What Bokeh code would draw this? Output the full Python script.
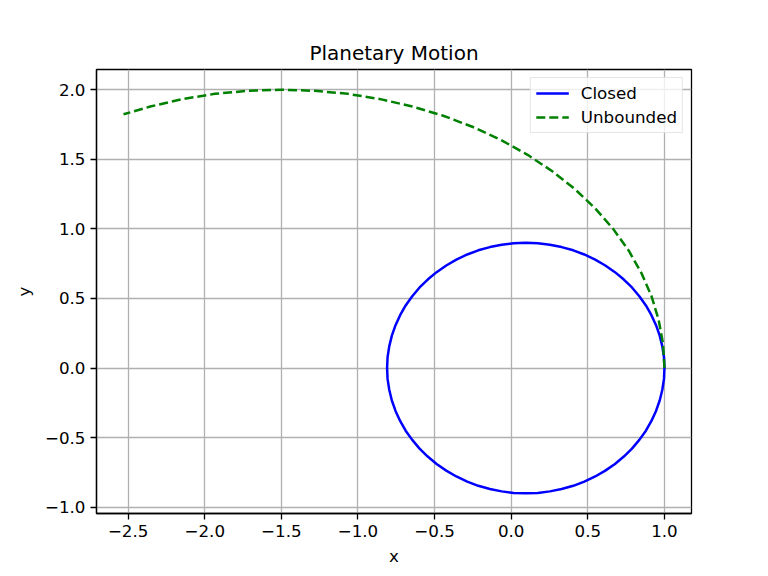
from bokeh.plotting import figure
from bokeh.models import Range1d, FixedTicker, Legend, LegendItem, Title
from bokeh.embed import file_html
from bokeh.resources import INLINE

# Closed orbit points
closed_x = [1.000, 0.997, 0.986, 0.969, 0.945, 0.915, 0.879, 0.836, 0.788, 0.735,
            0.677, 0.614, 0.548, 0.477, 0.405, 0.329, 0.252, 0.174, 0.095, 0.016,
            -0.062, -0.139, -0.215, -0.287, -0.358, -0.424, -0.487, -0.545, -0.598,
            -0.646, -0.689, -0.725, -0.755, -0.779, -0.796, -0.807, -0.810,
            -0.807, -0.796, -0.779, -0.755, -0.725, -0.689, -0.646, -0.598, -0.545,
            -0.487, -0.424, -0.358, -0.287, -0.215, -0.139, -0.062, 0.016, 0.095,
            0.174, 0.252, 0.329, 0.405, 0.477, 0.548, 0.614, 0.677, 0.735, 0.788,
            0.836, 0.879, 0.915, 0.945, 0.969, 0.986, 0.997, 1.000]
closed_y = [0.000, 0.078, 0.156, 0.233, 0.308, 0.380, 0.450, 0.516, 0.579, 0.636,
            0.689, 0.737, 0.779, 0.816, 0.846, 0.869, 0.886, 0.897, 0.900, 0.897,
            0.886, 0.869, 0.846, 0.816, 0.779, 0.737, 0.689, 0.636, 0.579,
            0.516, 0.450, 0.380, 0.308, 0.233, 0.156, 0.078, 0.000,
            -0.078, -0.156, -0.233, -0.308, -0.380, -0.450, -0.516, -0.579, -0.636,
            -0.689, -0.737, -0.779, -0.816, -0.846, -0.869, -0.886, -0.897, -0.900,
            -0.897, -0.886, -0.869, -0.846, -0.816, -0.779, -0.737, -0.689, -0.636,
            -0.579, -0.516, -0.450, -0.380, -0.308, -0.233, -0.156, -0.078, 0.000]

# Unbounded orbit points
unb_x = [1.000, 0.991, 0.962, 0.915, 0.849, 0.766, 0.665, 0.548, 0.415, 0.268,
         0.107, -0.066, -0.250, -0.444, -0.645, -0.853, -1.066, -1.282, -1.500,
         -1.718, -1.934, -2.147, -2.355, -2.530]
unb_y = [0.000, 0.174, 0.347, 0.518, 0.684, 0.845, 1.000, 1.147, 1.286, 1.414,
         1.532, 1.638, 1.732, 1.813, 1.879, 1.932, 1.970, 1.992, 2.000,
         1.992, 1.970, 1.932, 1.879, 1.823]

x_ticks = [-2.5, -2.0, -1.5, -1.0, -0.5, 0.0, 0.5, 1.0]
y_ticks = [-1.0, -0.5, 0.0, 0.5, 1.0, 1.5, 2.0]

FONT = "DejaVu Sans"
FS = "16.7px"

def lab(v):
    s = f"{v:.1f}"
    return s.replace("-", "\u2212")

p = figure(width=768, height=576, output_backend="svg", toolbar_location=None,
           x_range=Range1d(-2.7065, 1.1765), y_range=Range1d(-1.045, 2.145),
           min_border_left=96, min_border_right=77, min_border_top=69, min_border_bottom=63)
p.title = Title(text="Planetary Motion", align="center", text_font=FONT,
                text_font_size="20px", text_font_style="normal", text_color="black")

p.background_fill_color = "white"
p.border_fill_color = "white"
p.outline_line_color = "black"
p.outline_line_width = 1.3

p.xaxis.ticker = FixedTicker(ticks=x_ticks)
p.yaxis.ticker = FixedTicker(ticks=y_ticks)
p.xaxis.major_label_overrides = {v: lab(v) for v in x_ticks}
p.yaxis.major_label_overrides = {v: lab(v) for v in y_ticks}
for ax in (p.xaxis, p.yaxis):
    ax.major_label_text_font = FONT
    ax.major_label_text_font_size = FS
    ax.major_label_text_color = "black"
    ax.axis_label_text_font = FONT
    ax.axis_label_text_font_size = FS
    ax.axis_label_text_font_style = "normal"
    ax.axis_label_text_color = "black"
    ax.major_tick_out = 6
    ax.major_tick_in = 0
    ax.minor_tick_line_color = None
    ax.axis_line_color = "black"
    ax.axis_line_width = 1.3
    ax.major_tick_line_width = 1.3
p.xaxis.axis_label = "x"
p.yaxis.axis_label = "y"
p.xaxis.major_label_standoff = 5
p.yaxis.major_label_standoff = 5
p.xaxis.axis_label_standoff = 6
p.yaxis.axis_label_standoff = 8

p.grid.grid_line_color = "#b0b0b0"
p.grid.grid_line_width = 1.3

r1 = p.line(closed_x, closed_y, line_color="blue", line_width=2.5, line_join="round")
r2 = p.line(unb_x, unb_y, line_color="green", line_width=2.5, line_dash="9 4", line_join="round")

legend = Legend(items=[LegendItem(label="Closed", renderers=[r1]),
                       LegendItem(label="Unbounded", renderers=[r2])],
                location="top_right")
legend.label_text_font = FONT
legend.label_text_font_size = FS
legend.label_text_color = "black"
legend.glyph_width = 33
legend.glyph_height = 20
legend.spacing = 4
legend.padding = 5
legend.margin = 8
legend.label_standoff = 12
legend.border_line_color = "#cccccc"
legend.border_line_width = 1.3
legend.background_fill_alpha = 0.8
p.add_layout(legend)

open("out.html", "w").write(file_html(p, INLINE))
